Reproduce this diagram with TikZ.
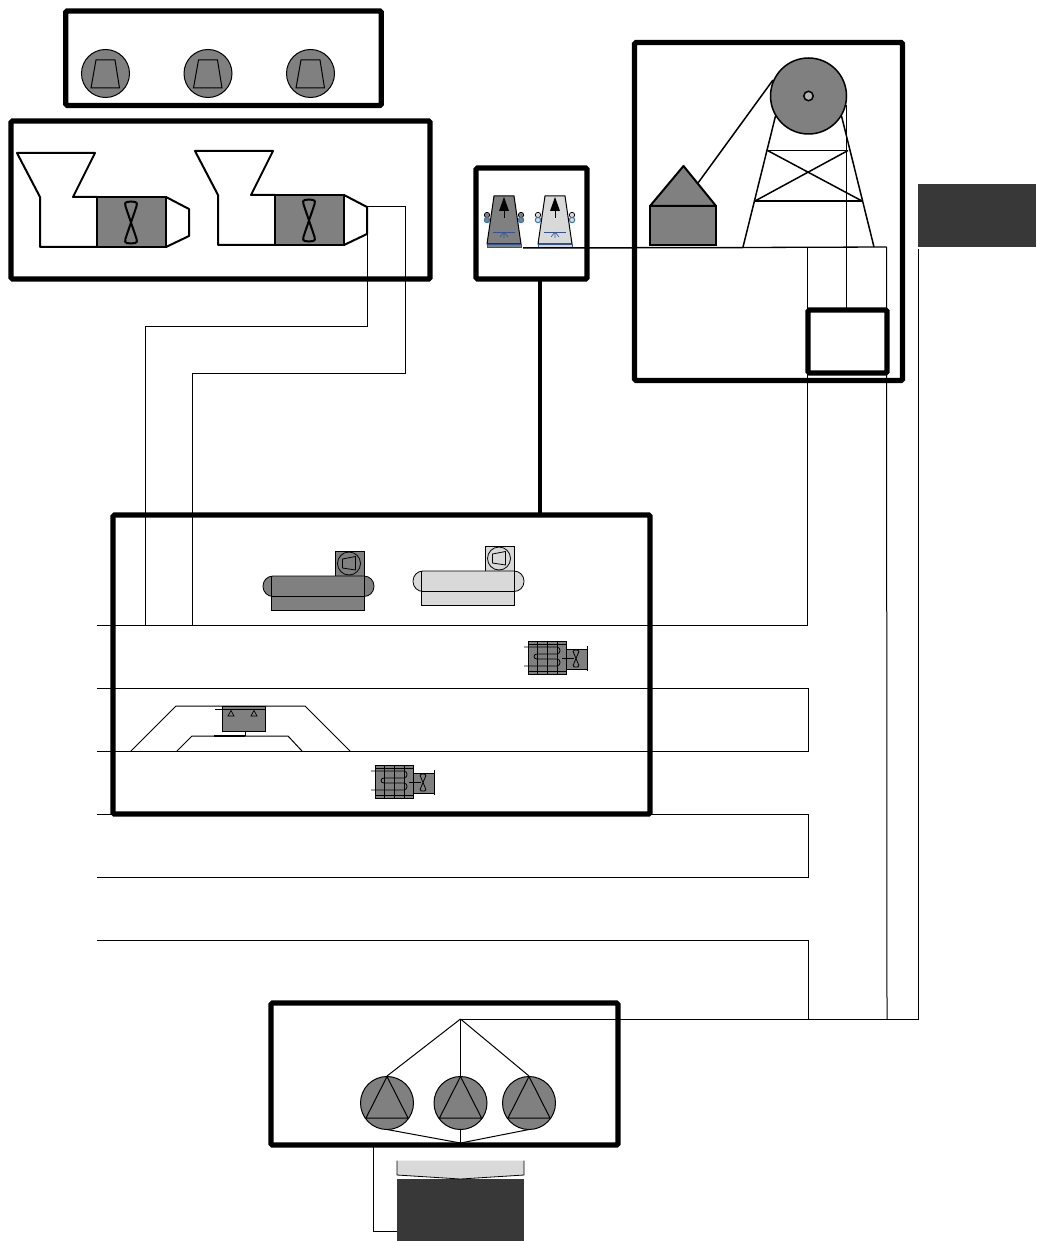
\documentclass[tikz,border=0pt]{standalone}
\usepackage{tikz}
\usetikzlibrary{calc}
\definecolor{midgray}{HTML}{808080}
\definecolor{palegray}{HTML}{D9D9D9}
\definecolor{darkfill}{HTML}{383838}
\definecolor{basinblue}{HTML}{2E75B6}
\definecolor{fanblue}{HTML}{2F5597}
\newcommand{\fanblade}[5]{
	\draw[#5] (#1,#2) -- (#1-#3*.95,#2-#4*.8) .. controls (#1-#3*1.2,#2-#4) and (#1-#3*.4,#2-#4) .. (#1,#2-#4) .. controls (#1+#3*.4,#2-#4) and (#1+#3*1.2,#2-#4) .. (#1+#3*.95,#2-#4*.8) -- (#1-#3*.95,#2+#4*.8) .. controls (#1-#3*1.2,#2+#4) and (#1-#3*.4,#2+#4) .. (#1,#2+#4) .. controls (#1+#3*.4,#2+#4) and (#1+#3*1.2,#2+#4) .. (#1+#3*.95,#2+#4*.8) -- cycle;
}
\newcommand{\compwheel}[2]{
	\draw[line width=1pt,fill=midgray] (#1,#2) circle (24);
	\draw[line width=1pt] (#1-14.5,#2+14.5) -- (#1+14,#2+14.5) -- (#1+9.5,#2-13.5) -- (#1-9.5,#2-13.5) -- cycle;
}
\newcommand{\hopper}[2]{
	\begin{scope}[shift={(#1,#2)}]
		\draw[thickline,fill=midgray] (97,197) rectangle (166,247);
		\draw[thickline,line join=round] (97,247) -- (40,247) -- (40,197) -- (17,153) -- (95,153) -- (73,197) -- (97,197);
		\draw[thickline,line join=round] (166,197) -- (189,209) -- (189,236) -- (166,247);
		\fanblade{131}{222.5}{6}{21}{line width=2pt}
	\end{scope}
}
\newcommand{\tower}[2]{
	\begin{scope}[shift={(#1,0)}]
		\draw[line width=1pt,fill=#2] (487,244) -- (521,244) -- (514,196) -- (494,196) -- cycle;
		\draw[line width=1pt] (504,218) -- (504,205);
		\fill (504,197) -- (509,211) -- (499,211) -- cycle;
		\draw[fanblue,line width=.8pt] (493,232) -- (515,232);
		\draw[fanblue,line width=.6pt] (504,232) -- (504,238) (504,232) -- (500,237) (504,232) -- (508,237);
		\draw[fanblue,line width=.8pt,fill=#2] (487,244.5) rectangle (521,247.5);
		\foreach \sidex in {487,521} {
			\draw[line width=.7pt,fill=#2] (\sidex,215) circle (2.7);
			\draw[basinblue,line width=1pt,fill=#2] (\sidex,220) circle (2.7);
		}
	\end{scope}
}
\newcommand{\condenser}[3]{
	\begin{scope}[shift={(#1,#2)}]
		\draw[line width=.8pt,fill=#3] (271,576) rectangle (364,610);
		\draw[line width=.8pt,fill=#3] (335,551.5) rectangle (364,576);
		\draw[line width=.8pt,fill=#3,rounded corners=10pt] (263,576) rectangle (374,596.5);
		\draw[line width=.8pt] (271,576) -- (271,596.5) (364,576) -- (364,596.5);
		\draw[line width=.8pt] (349,563.5) circle (11.5);
		\draw[line width=.8pt] (342.5,559) -- (355.5,556.5) -- (355.5,570) -- (342.5,568) -- cycle;
	\end{scope}
}
\newcommand{\cooler}[2]{
	\begin{scope}[shift={(#1,#2)}]
		\draw[line width=.8pt,fill=midgray] (566,649) rectangle (587,669);
		\draw[line width=1pt,fill=midgray] (528,641) rectangle (566.5,674);
		\draw[line width=.8pt] (528,644) -- (566.5,644) (528,671.5) -- (566.5,671.5);
		\draw[line width=1pt] (587,646) -- (587,671);
		\foreach \barx in {537,547,557} {
			\draw[line width=.8pt] (\barx,641) -- (\barx,674);
		}
		\draw[line width=.8pt] (524,647) -- (557,647) .. controls (561,647) and (561,654) .. (557,654) -- (537,654) .. controls (533,654) and (533,659) .. (537,659) -- (557,659) .. controls (561,659) and (561,666) .. (557,666) -- (524,666);
		\draw[line width=.8pt] (562,658) -- (574,658);
		\fanblade{576}{658.5}{3}{8.5}{line width=.8pt}
	\end{scope}
}
\newcommand{\pumpwheel}[2]{
	\draw[line width=1pt,fill=midgray] (#1,#2) circle (26.5);
	\draw[line width=1pt,line join=round] (#1,#2-26.5) -- (#1+21,#2+15) -- (#1-21,#2+15) -- cycle;
}
\begin{document}
\begin{tikzpicture}[x=1pt,y=-1pt,
		framebox/.style={rectangle,draw,line width=5.3pt,rounded corners=1.5pt,inner sep=0pt,outer sep=0pt},
		darkblock/.style={rectangle,fill=darkfill,inner sep=0pt,outer sep=0pt},
		pipe/.style={line width=1pt,line join=miter},
		shaftline/.style={line width=4.5pt},
		thickline/.style={line width=2pt},
		rigline/.style={line width=1.5pt}
		]
		\useasboundingbox (0,0) rectangle (1036,1241);

		\node (shedrow) [framebox,minimum width=315.5pt,minimum height=94.5pt] at (223.5,58.25) {};
		\node (hopperrow) [framebox,minimum width=419pt,minimum height=158pt] at (220.5,200) {};
		\node (towerbox) [framebox,minimum width=111pt,minimum height=111pt] at (531.5,223.5) {};
		\node (hoistbox) [framebox,minimum width=268pt,minimum height=338pt] at (768.5,211.5) {};
		\node (cagebox) [framebox,minimum width=79pt,minimum height=63pt] at (847.5,341.5) {};
		\node (plantbox) [framebox,minimum width=537pt,minimum height=299pt] at (381.5,664.5) {};
		\node (pumpbox) [framebox,minimum width=347pt,minimum height=142pt] at (444.5,1074) {};
		\node (sideblock) [darkblock,minimum width=118pt,minimum height=63pt] at (977,215.5) {};
		\node (sumpblock) [darkblock,minimum width=127pt,minimum height=62pt] at (460.5,1210) {};

		\foreach \wheelx in {105.5,208,310.5} {
			\compwheel{\wheelx}{73.5}
		}
		\hopper{0}{0}
		\hopper{178}{-2}
		\tower{0}{midgray}
		\tower{51}{palegray}

		\coordinate (nozzlelow) at (367,234);
		\coordinate (nozzlehigh) at (367,207);
		\coordinate (dropa) at (145,625);
		\coordinate (dropb) at (192,625);
		\coordinate (shafttop) at (540,279);
		\draw[pipe] (nozzlelow) -- (367,326) -| (dropa);
		\draw[pipe] (nozzlehigh) -- (405,207) -- (405,373) -| (dropb);
		\draw[shaftline] (shafttop) -- (shafttop |- plantbox.north);

		\coordinate (headera) at (97,625);
		\coordinate (headerb) at (97,688);
		\coordinate (headerc) at (97,751);
		\coordinate (headerd) at (97,814);
		\coordinate (headere) at (97,877);
		\coordinate (headerf) at (97,940);
		\coordinate (busleft) at (460.5,1019);
		\coordinate (deckright) at (886.5,247);
		\coordinate (towerout) at (523,248);
		\coordinate (deckleft) at (743,247.5);
		\coordinate (ropetop) at (846,105);
		\draw[pipe] (headera) -- (807,625) -- (807,247);
		\draw[pipe] (headerb) -- (808,688) -- (808,751) -- (headerc);
		\draw[pipe] (headerd) -- (808,814) -- (808,877) -- (headere);
		\draw[pipe] (headerf) -- (808,940) -- (808,1019);
		\draw[pipe] (busleft) -- (918,1019) -- (918,249);
		\draw[pipe] (deckright) -- (887,1019);
		\draw[pipe] (ropetop) -- (ropetop |- cagebox.north);
		\draw[line width=1.5pt] (towerout) -- (deckleft);
		\draw[line width=1.3pt] (deckleft) -- (deckright);

		\draw[thickline,fill=midgray] (650,206) rectangle (716,245);
		\draw[thickline,fill=midgray,line join=round] (650,206) -- (683.5,166) -- (716,206) -- cycle;
		\draw[rigline] (698,183) -- (773,80);
		\draw[rigline] (775.5,116) -- (743,247);
		\draw[rigline] (841.5,116) -- (874,247);
		\draw[rigline] (767.5,150.5) -- (848,150.5);
		\draw[rigline] (755,201) -- (862,201);
		\draw[rigline] (767.5,150.5) -- (862,201);
		\draw[rigline] (848,150.5) -- (755,201);
		\draw[rigline,fill=midgray] (808.5,96) circle (38);
		\draw[rigline,fill=midgray!60] (808.5,96) circle (4.7);

		\condenser{0}{0}{midgray}
		\condenser{150}{-5}{palegray}
		\cooler{0}{0}
		\cooler{-153}{124}

		\draw[pipe] (131,751) -- (176,706) -- (305,706) -- (350,751);
		\draw[pipe] (177,751) -- (192,736) -- (288,736) -- (302,751);
		\draw[line width=.8pt,fill=midgray] (222,706) rectangle (265,731.5);
		\draw[line width=.6pt] (215,709.5) -- (265,709.5);
		\draw[line width=.7pt] (228,716) -- (234,716) -- (231,710.5) -- cycle;
		\draw[line width=.7pt] (251,716) -- (257,716) -- (254,710.5) -- cycle;
		\draw[pipe] (245,731.5) -- (245,736);
		\draw[line width=1.5pt] (214,736) -- (245,736);

		\pumpwheel{387}{1103}
		\pumpwheel{460.5}{1103}
		\pumpwheel{529}{1103}
		\coordinate (busdown) at (460.5,1143);
		\draw[pipe] (busleft) -- (387,1076);
		\draw[pipe] (busleft) -- (460.5,1076);
		\draw[pipe] (busleft) -- (529,1076);
		\draw[pipe] (387,1129.5) -- (busdown);
		\draw[pipe] (460.5,1129.5) -- (busdown);
		\draw[pipe] (529,1129.5) -- (busdown);

		\coordinate (drainout) at (373,1145);
		\draw[pipe] (drainout) |- (sumpblock.west |- 373,1231);

		\fill[palegray] (397,1160.5) -- (397,1175) -- (460.5,1179) -- (524,1175) -- (524,1160.5) -- cycle;
		\draw[line width=.8pt] (397,1160.5) -- (397,1175) -- (460.5,1179) -- (524,1175) -- (524,1160.5);
	\end{tikzpicture}
\end{document}
